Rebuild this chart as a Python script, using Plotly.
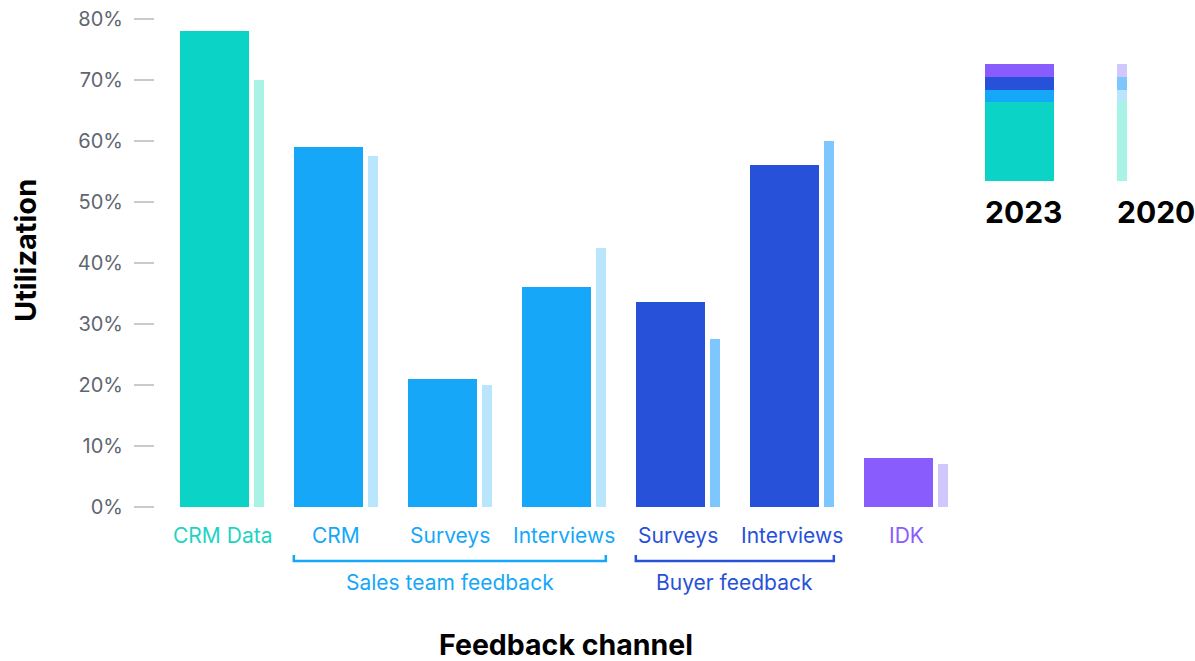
import plotly.graph_objects as go

# ---- data ----
categories = ["CRM Data", "CRM", "Surveys", "Interviews", "Surveys", "Interviews", "IDK"]
groups = ["", "Sales team feedback", "Sales team feedback", "Sales team feedback",
          "Buyer feedback", "Buyer feedback", ""]
values_2023 = [0.78, 0.59, 0.21, 0.361, 0.336, 0.561, 0.08]
values_2020 = [0.70, 0.575, 0.20, 0.425, 0.275, 0.60, 0.07]
tick_vals = [0, 0.1, 0.2, 0.3, 0.4, 0.5, 0.6, 0.7, 0.8]
tick_text = ["0%", "10%", "20%", "30%", "40%", "50%", "60%", "70%", "80%"]

# ---- styles ----
dark_colors = ["#0BD4C6", "#16A7F9", "#16A7F9", "#16A7F9", "#2851D9", "#2851D9", "#895CFE"]
light_colors = ["#A8F3E5", "#BAE6FD", "#BAE6FD", "#BAE6FD", "#7DC7FE", "#7DC7FE", "#CFC7FE"]
label_colors = ["#1FD3C4", "#16A7F9", "#16A7F9", "#16A7F9", "#2851D9", "#2851D9", "#895CFE"]
FONT = "Inter, Roboto, sans-serif"

W, H = 1195, 661
ML, MR, MT, MB = 155, 235, 19, 154
PW, PH = W - ML - MR, H - MT - MB
STEP = 114.0
CENTER0 = 222.0
x0 = -(CENTER0 - ML) / STEP
x1 = x0 + PW / STEP

WIDE, NARROW, GAP = 69 / STEP, 10 / STEP, 5 / STEP
OFF = -0.37

xs = list(range(len(categories)))

fig = go.Figure()
fig.add_trace(go.Bar(x=xs, y=values_2023, width=WIDE, offset=OFF,
                     marker=dict(color=dark_colors, line=dict(width=0)), name="2023",
                     hoverinfo="skip"))
fig.add_trace(go.Bar(x=xs, y=values_2020, width=NARROW, offset=OFF + WIDE + GAP,
                     marker=dict(color=light_colors, line=dict(width=0)), name="2020",
                     hoverinfo="skip"))

def px_x(px):
    return (px - ML) / PW

def px_y(py):
    return (H - MB - py) / PH

annotations = []
for i, c in enumerate(categories):
    annotations.append(dict(x=i, y=px_y(535), xref="x", yref="paper", text=c,
                            showarrow=False, font=dict(family=FONT, size=21, color=label_colors[i]),
                            xanchor="center", yanchor="middle"))

shapes = []
# group brackets
group_defs = [("Sales team feedback", 1, 3, "#16A7F9"), ("Buyer feedback", 4, 5, "#2851D9")]
for name, a, b, col in group_defs:
    xa = a + OFF
    xb = b + OFF + WIDE + GAP + NARROW
    yl, yt = px_y(561), px_y(555)
    shapes.append(dict(type="path", xref="x", yref="paper",
                       path=f"M {xa},{yt} L {xa},{yl} L {xb},{yl} L {xb},{yt}",
                       line=dict(color=col, width=2.5)))
    annotations.append(dict(x=(xa + xb) / 2, y=px_y(582), xref="x", yref="paper", text=name,
                            showarrow=False, font=dict(family=FONT, size=21, color=col),
                            xanchor="center", yanchor="middle"))

# legend swatches
seg_bounds = [64, 77, 90, 102, 181]
leg_dark = ["#895CFE", "#2851D9", "#16A7F9", "#0BD4C6"]
leg_light = ["#CFC7FE", "#7DC7FE", "#BAE6FD", "#A8F3E5"]
for (lx0, lx1, cols) in [(985, 1054, leg_dark), (1117, 1127, leg_light)]:
    for k in range(4):
        shapes.append(dict(type="rect", xref="paper", yref="paper",
                           x0=px_x(lx0), x1=px_x(lx1),
                           y0=px_y(seg_bounds[k + 1]), y1=px_y(seg_bounds[k]),
                           fillcolor=cols[k], line=dict(width=0), layer="above"))
for txt, cx in [("2023", 1023), ("2020", 1156)]:
    annotations.append(dict(x=px_x(cx), y=px_y(212), xref="paper", yref="paper", text=f"<b>{txt}</b>",
                            showarrow=False, font=dict(family=FONT, size=30, color="#000000"),
                            xanchor="center", yanchor="middle"))

# axis titles
annotations.append(dict(x=px_x(25), y=px_y(251), xref="paper", yref="paper", text="<b>Utilization</b>",
                        textangle=-90, showarrow=False, font=dict(family=FONT, size=29, color="#000000"),
                        xanchor="center", yanchor="middle"))
annotations.append(dict(x=px_x(566), y=px_y(644), xref="paper", yref="paper", text="<b>Feedback channel</b>",
                        showarrow=False, font=dict(family=FONT, size=28.5, color="#000000"),
                        xanchor="center", yanchor="middle"))

fig.update_layout(
    template="none",
    width=W, height=H,
    margin=dict(l=ML, r=MR, t=MT, b=MB, pad=0, autoexpand=False),
    paper_bgcolor="white", plot_bgcolor="white",
    showlegend=False, barmode="overlay", bargap=0,
    annotations=annotations, shapes=shapes,
    font=dict(family=FONT),
)
fig.update_xaxes(range=[x0, x1], showticklabels=False, showgrid=False, zeroline=False,
                 showline=False, ticks="", fixedrange=True, automargin=False)
fig.update_yaxes(range=[0, 0.8], tickvals=tick_vals, ticktext=tick_text, showgrid=False,
                 zeroline=False, showline=False, ticks="outside", ticklen=20, tickwidth=2,
                 tickcolor="#C8CACF", ticklabelstandoff=7, automargin=False,
                 tickfont=dict(family=FONT, size=20, color="#5F6670"), fixedrange=True)

fig.write_html("out.html", config={"displayModeBar": False})
